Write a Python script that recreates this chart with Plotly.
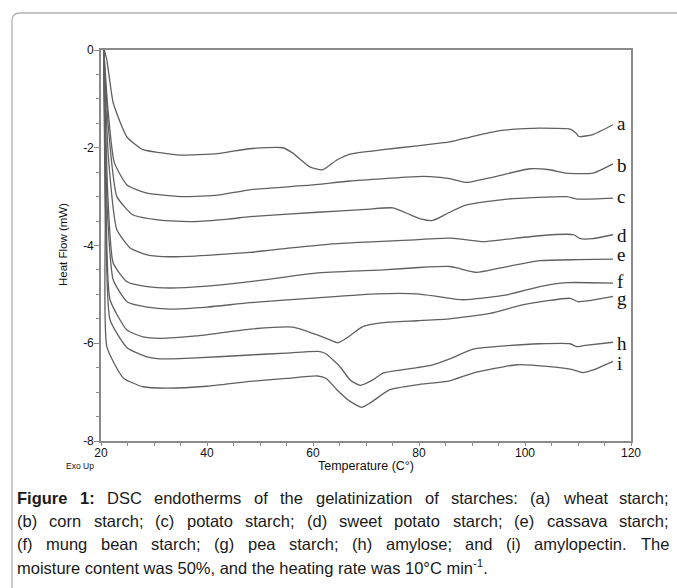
import plotly.graph_objects as go

# ---------------- data ----------------
temp_a = [20.5, 21.1, 22.3, 24.9, 27.9, 31.1, 35, 42, 48, 54.3, 56.2, 59.4, 61.8, 64.5, 67, 73.2, 79.6, 85.8, 90, 95.3, 100, 102.8, 108.5, 109.6, 110.2, 112.8, 116.6]
hf_a = [0.05, -0.2, -1.08, -1.78, -2.04, -2.1, -2.15, -2.12, -2.02, -2.0, -2.11, -2.39, -2.45, -2.25, -2.13, -2.04, -1.96, -1.88, -1.77, -1.65, -1.61, -1.60, -1.62, -1.70, -1.77, -1.73, -1.53]

temp_b = [20.5, 21.3, 22.5, 24.9, 28.7, 35.8, 42, 48.1, 60, 67, 79.6, 82, 85.8, 89, 94, 100.9, 104.7, 107.8, 112.8, 116.6]
hf_b = [0.05, -1.2, -2.3, -2.76, -2.93, -3.0, -2.97, -2.86, -2.76, -2.68, -2.59, -2.59, -2.63, -2.71, -2.6, -2.43, -2.45, -2.52, -2.52, -2.33]

temp_c = [20.5, 21.4, 23, 26, 31.1, 37.4, 44, 48.1, 60.8, 70, 75.1, 78.3, 80.5, 82.4, 84, 85.8, 89, 96.6, 107.9, 109.8, 116.6]
hf_c = [0.05, -1.6, -3.0, -3.37, -3.48, -3.51, -3.46, -3.41, -3.32, -3.26, -3.23, -3.37, -3.46, -3.49, -3.42, -3.32, -3.17, -3.05, -3.0, -3.05, -3.03]

temp_d = [20.5, 21.4, 23, 25.5, 28.7, 33, 40, 48.1, 55, 63.2, 70, 78, 85.8, 88, 92.1, 96.6, 102.8, 107.9, 109.2, 110.4, 112.8, 116.6]
hf_d = [0.05, -2.2, -3.68, -4.05, -4.19, -4.23, -4.2, -4.14, -4.06, -3.97, -3.93, -3.89, -3.85, -3.87, -3.92, -3.87, -3.80, -3.77, -3.78, -3.86, -3.86, -3.78]

temp_e = [20.5, 21.3, 22.3, 24.9, 28.7, 33, 40, 48.1, 55, 60.8, 73.2, 80, 85.8, 87.2, 90.9, 95.3, 102.8, 110, 116.6]
hf_e = [0.05, -3.0, -4.36, -4.74, -4.84, -4.87, -4.83, -4.74, -4.64, -4.56, -4.50, -4.45, -4.43, -4.46, -4.55, -4.46, -4.31, -4.29, -4.28]

temp_f = [20.5, 21.2, 22.3, 24.9, 28.7, 33, 40, 48.1, 60.8, 72.1, 79.6, 84, 88.3, 96.6, 102.8, 107.9, 116.6]
hf_f = [0.05, -3.3, -4.70, -5.15, -5.26, -5.30, -5.26, -5.17, -5.07, -4.99, -4.99, -5.05, -5.11, -5.01, -4.84, -4.76, -4.77]

temp_g = [20.5, 21.0, 21.7, 24.9, 27.9, 31.1, 38, 48.1, 56.2, 60.8, 63.2, 64.7, 66.4, 69.4, 73.2, 79.6, 85.8, 93.4, 99.7, 108.5, 110, 112, 116.6]
hf_g = [0.05, -3.5, -5.11, -5.73, -5.87, -5.90, -5.85, -5.71, -5.67, -5.83, -5.93, -5.99, -5.89, -5.66, -5.58, -5.54, -5.50, -5.39, -5.21, -5.08, -5.15, -5.13, -5.04]

temp_h = [20.5, 20.9, 21.7, 24.9, 28.7, 31.1, 38, 48.1, 55, 61.3, 62.5, 65.1, 67, 68.9, 71.3, 73.2, 79.6, 82.6, 85.8, 90.2, 96.6, 102.8, 108.5, 109.8, 111, 116.6]
hf_h = [0.05, -3.5, -5.52, -6.09, -6.28, -6.32, -6.3, -6.24, -6.2, -6.17, -6.22, -6.48, -6.75, -6.86, -6.75, -6.61, -6.50, -6.44, -6.32, -6.12, -6.05, -6.01, -6.01, -6.07, -6.05, -5.98]

temp_i = [20.5, 20.8, 21.1, 24.2, 27.9, 32.4, 40, 48.1, 55, 60.8, 62.5, 64.5, 67, 69.2, 70.8, 74.5, 79.6, 85.8, 90.2, 98.5, 104.7, 109, 110.9, 113, 116.6]
hf_i = [0.05, -3.5, -6.07, -6.71, -6.89, -6.92, -6.88, -6.78, -6.72, -6.67, -6.72, -6.95, -7.19, -7.31, -7.22, -6.95, -6.85, -6.77, -6.61, -6.44, -6.48, -6.54, -6.60, -6.54, -6.37]

curve_labels = ["a", "b", "c", "d", "e", "f", "g", "h", "i"]
label_y = [-1.51, -2.37, -3.0, -3.80, -4.19, -4.74, -5.08, -6.01, -6.42]
x_ticks = [20, 40, 60, 80, 100, 120]
y_ticks = [-8, -6, -4, -2, 0]
y_tick_text = ["-8", "-6", "-4", "-2", "0"]

caption_lines = [
    "<b>Figure</b> <b>1:</b> DSC endotherms of the gelatinization of starches: (a) wheat starch;",
    "(b) corn starch; (c) potato starch; (d) sweet potato starch; (e) cassava starch;",
    "(f) mung bean starch; (g) pea starch; (h) amylose; and (i) amylopectin. The",
    "moisture content was 50%, and the heating rate was 10°C min<sup>-1</sup>.",
]

temps = [temp_a, temp_b, temp_c, temp_d, temp_e, temp_f, temp_g, temp_h, temp_i]
flows = [hf_a, hf_b, hf_c, hf_d, hf_e, hf_f, hf_g, hf_h, hf_i]

# ---------------- layout geometry (pixels) ----------------
W, H = 677, 588
L, R, T, B = 101, 631, 50, 441


def px(xp):
    return (xp - L) / (R - L)


def py(yp):
    return (B - yp) / (B - T)


# Arial / Liberation Sans advance widths (1/1000 em) for justification
AW = {" ": 278, "%": 889, "(": 333, ")": 333, ",": 278, "-": 333, ".": 278, ":": 278, ";": 278,
      "°": 400, "C": 722, "D": 722, "S": 667, "T": 611, "F": 611,
      "a": 556, "b": 556, "c": 500, "d": 556, "e": 556, "f": 278, "g": 556, "h": 556, "i": 222,
      "j": 222, "k": 500, "l": 222, "m": 833, "n": 556, "o": 556, "p": 556, "q": 556, "r": 333,
      "s": 500, "t": 278, "u": 556, "v": 500, "w": 722, "x": 500, "y": 500, "z": 500}
AWB = {"F": 611, "i": 278, "g": 611, "u": 611, "r": 389, "e": 556, "1": 556, ":": 333}


def word_width(word, fs):
    bold = word.startswith("<b>")
    txt = word.replace("<b>", "").replace("</b>", "")
    tot = 0
    for ch in txt:
        if ch.isdigit():
            tot += 556
        elif bold:
            tot += AWB.get(ch, 580)
        else:
            tot += AW.get(ch, 556)
    return tot / 1000.0 * fs


fig = go.Figure()
for tx, hy in zip(temps, flows):
    fig.add_trace(go.Scatter(
        x=tx, y=hy, mode="lines",
        line=dict(color="#606060", width=1.3, shape="spline", smoothing=0.5),
        hoverinfo="skip", showlegend=False,
    ))

ann = []
for lab, ly in zip(curve_labels, label_y):
    ann.append(dict(x=117.0, y=ly, xref="x", yref="y", text=lab, showarrow=False,
                    xanchor="left", yanchor="middle",
                    font=dict(family="Liberation Serif, Times New Roman, serif", size=19, color="#111")))

ann.append(dict(x=px(63), y=py(245), xref="paper", yref="paper", text="Heat Flow (mW)",
                showarrow=False, textangle=-90, xanchor="center", yanchor="middle",
                font=dict(family="Liberation Sans, Arial", size=11.5, color="#111")))
ann.append(dict(x=px(366), y=py(466), xref="paper", yref="paper", text="Temperature (C°)",
                showarrow=False, xanchor="center", yanchor="middle",
                font=dict(family="Liberation Sans, Arial", size=12.5, color="#111")))
ann.append(dict(x=px(64), y=py(466), xref="paper", yref="paper", text="Exo Up",
                showarrow=False, xanchor="left", yanchor="middle",
                font=dict(family="Liberation Sans, Arial", size=8.5, color="#111")))

CAP_FS = 16.5
cap_font = dict(family="Liberation Sans, Arial", size=CAP_FS, color="#1a1a1a")
cap_y = [498, 521, 544, 567]
cap_left, cap_right = 17, 669
for i, (line, yy) in enumerate(zip(caption_lines, cap_y)):
    if i < 3:
        words = line.split(" ")
        widths = [word_width(w, CAP_FS) for w in words]
        gap = (cap_right - cap_left - sum(widths)) / (len(words) - 1)
        xcur = cap_left
        for w, ww in zip(words, widths):
            ann.append(dict(x=px(xcur), y=py(yy), xref="paper", yref="paper", text=w,
                            showarrow=False, xanchor="left", yanchor="middle", font=cap_font,
                            borderpad=0, borderwidth=0))
            xcur += ww + gap
    else:
        ann.append(dict(x=px(cap_left), y=py(yy), xref="paper", yref="paper", text=line,
                        showarrow=False, xanchor="left", yanchor="middle", font=cap_font,
                        borderpad=0, borderwidth=0))

# outer rounded frame (extends past right / bottom edge)
r = 8
path = (f"M {px(12)},{py(700)} L {px(12)},{py(13 + r)} "
        f"Q {px(12)},{py(13)} {px(12 + r)},{py(13)} L {px(720)},{py(13)}")

axis_common = dict(showgrid=False, zeroline=False, showline=True, linecolor="#8a8a8a",
                   linewidth=1.6, mirror=True, ticks="outside", tickcolor="#8a8a8a",
                   tickwidth=1, tickfont=dict(family="Liberation Sans, Arial", size=12, color="#111"))

fig.update_layout(
    width=W, height=H,
    margin=dict(l=L, r=W - R, t=T, b=H - B),
    paper_bgcolor="white", plot_bgcolor="white",
    xaxis=dict(range=[20, 120], tickvals=x_ticks, ticklen=3, ticklabelstandoff=-3,
               minor=dict(dtick=5, tick0=20, ticks="outside", ticklen=3, tickcolor="#8a8a8a"),
               **axis_common),
    yaxis=dict(range=[-8, 0], tickvals=y_ticks, ticktext=y_tick_text, ticklen=5,
               ticklabelstandoff=-2,
               minor=dict(dtick=0.5, tick0=0, ticks="outside", ticklen=3, tickcolor="#8a8a8a"),
               **axis_common),
    annotations=ann,
    shapes=[dict(type="path", path=path, xref="paper", yref="paper",
                 line=dict(color="#b0b0b0", width=1.3), layer="below")],
)

fig.write_html("out.html", config={"displayModeBar": False})
